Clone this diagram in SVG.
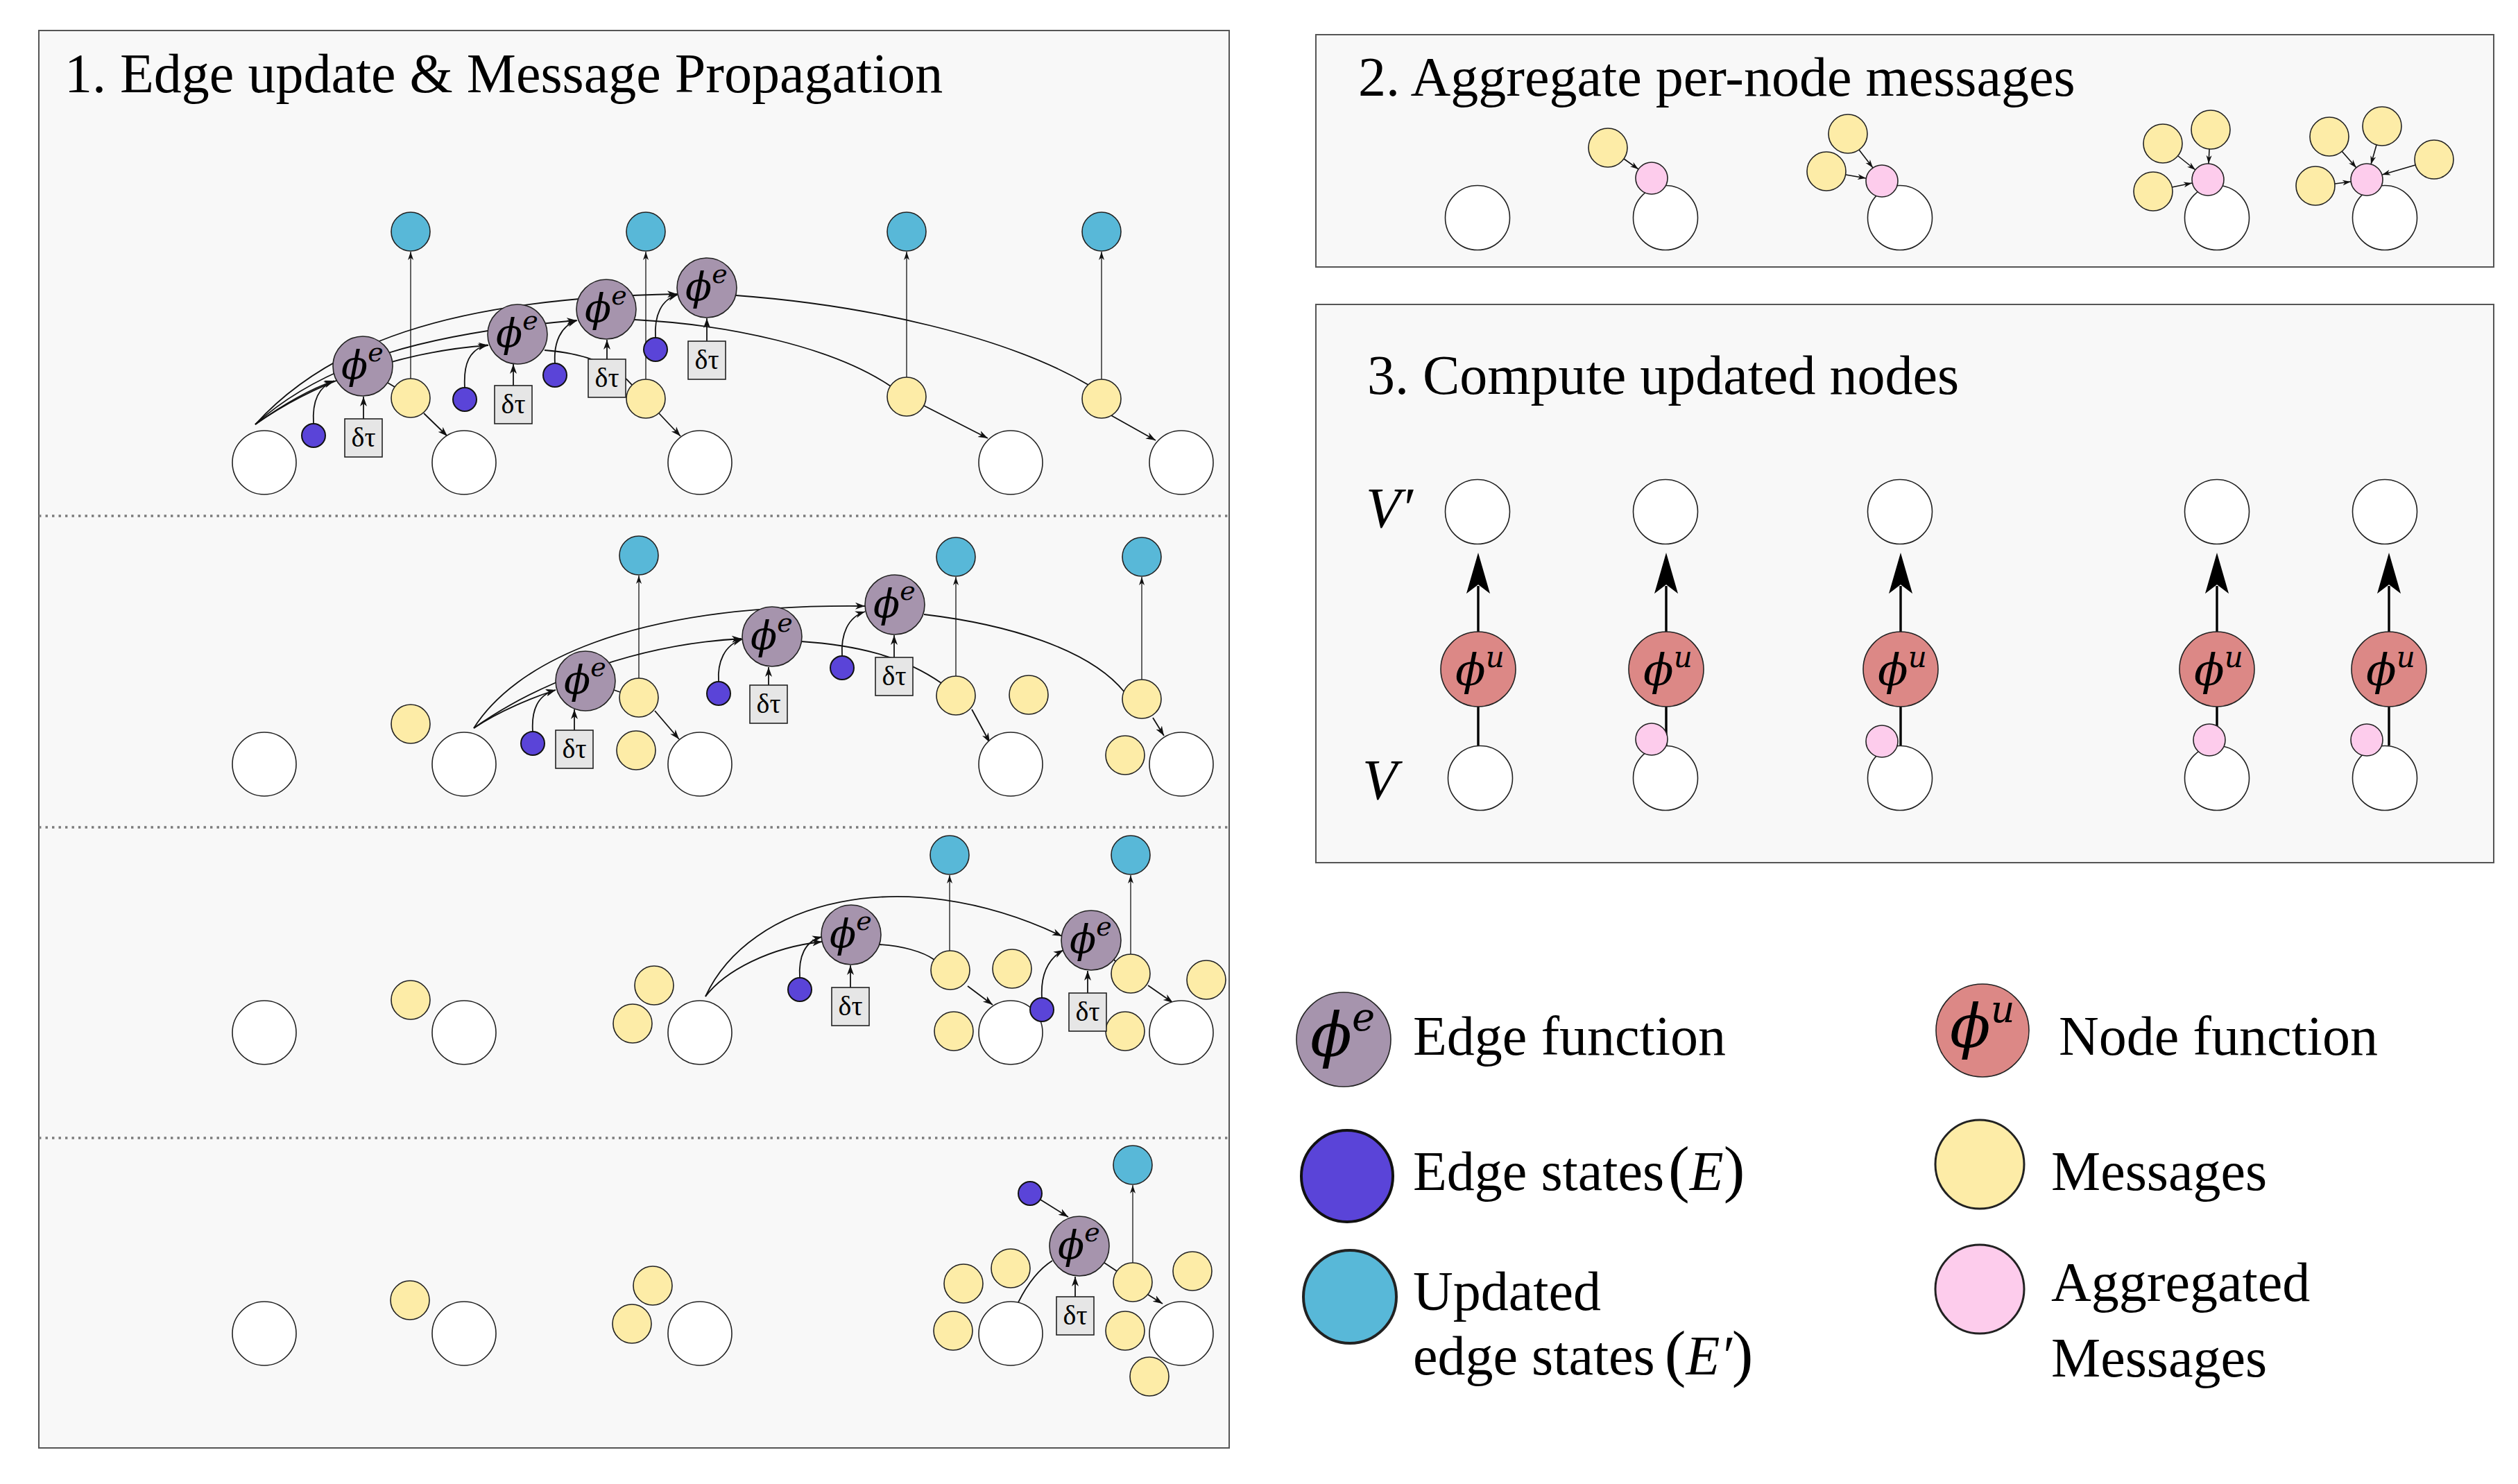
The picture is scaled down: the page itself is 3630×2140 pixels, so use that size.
<svg xmlns="http://www.w3.org/2000/svg" width="3630" height="2140" viewBox="0 0 3630 2140">
<defs>
<style>
.pb{fill:#f8f8f8;stroke:#555;stroke-width:2}
.dv{stroke:#7a7a7a;stroke-width:3.6;stroke-dasharray:3.4 6.1;fill:none}
.w{fill:#fff;stroke:#222;stroke-width:1.6}
.y{fill:#fdeca7;stroke:#222;stroke-width:1.6}
.t{fill:#58b8d8;stroke:#222;stroke-width:1.6}
.b{fill:#5a44d8;stroke:#111;stroke-width:2}
.pe{fill:#a694ad;stroke:#222;stroke-width:1.6}
.pu{fill:#dc8886;stroke:#222;stroke-width:1.6}
.pk{fill:#fdccec;stroke:#222;stroke-width:1.6}
.bx{fill:#e6e6e6;stroke:#222;stroke-width:1.6}
.c{fill:none;stroke:#111;stroke-width:1.8}
.ca{fill:none;stroke:#111;stroke-width:1.8;marker-end:url(#ah)}
.cs{fill:none;stroke:#111;stroke-width:1.6;marker-end:url(#ah2)}
.v{fill:none;stroke:#111;stroke-width:1.3;marker-end:url(#ah2)}
.tk{fill:none;stroke:#000;stroke-width:3.4}
.ttl{font-family:'Liberation Serif','Times New Roman',serif;font-size:80px;fill:#000}
.dt{font-family:'Liberation Serif','Times New Roman',serif;font-size:40px;text-anchor:middle;fill:#000}
.phi{font-family:'DejaVu Serif',serif;font-style:italic;fill:#000}
.mi{font-family:'Liberation Serif','Times New Roman',serif;font-style:italic}
</style>
<marker id="ah" markerUnits="userSpaceOnUse" markerWidth="16" markerHeight="12" refX="14" refY="6" orient="auto"><path d="M0,1 L14,6 L0,11 L4,6 Z" fill="#111"/></marker>
<marker id="ah2" markerUnits="userSpaceOnUse" markerWidth="13" markerHeight="10" refX="12" refY="5" orient="auto"><path d="M0,1 L12,5 L0,9 L3.5,5 Z" fill="#111"/></marker>
</defs>

<g id="panels">
<rect class="pb" x="56" y="44" width="1716" height="2044"/>
<rect class="pb" x="1897" y="50" width="1698" height="335"/>
<rect class="pb" x="1897" y="439" width="1698" height="805"/>
<path class="dv" d="M56,744 H1772 M56,1193 H1772 M56,1641 H1772"/>
<text class="ttl" x="93" y="133">1. Edge update &amp; Message Propagation</text>
<text class="ttl" x="1958" y="138">2. Aggregate per-node messages</text>
<text class="ttl" x="1971" y="568">3. Compute updated nodes</text>
<text class="mi" x="1969" y="760" font-size="82">V′</text>
<text class="mi" x="1964" y="1152" font-size="82">V</text>
</g>

<g id="connectors">
<!-- row 1 -->
<path class="ca" d="M368,612 C410,582 450,560 482,549"/>
<path class="ca" d="M368,612 C470,540 600,505 704,498"/>
<path class="ca" d="M368,612 C470,520 620,480 831,462"/>
<path class="ca" d="M368,612 C470,500 640,430 976,424"/>
<path class="ca" d="M452,611 C450,580 458,558 481,550"/>
<path class="ca" d="M670,559 C668,525 676,504 703,497"/>
<path class="ca" d="M800,524 C798,494 808,470 832,462"/>
<path class="ca" d="M945,487 C943,455 953,432 977,425"/>
<path class="ca" d="M524,604 V572"/>
<path class="ca" d="M740,556 V525"/>
<path class="ca" d="M875,518 V490"/>
<path class="ca" d="M1019,492 V459"/>
<path class="c" d="M559,552 L569,558"/>
<path class="c" d="M785,505 C850,510 890,530 912,556"/>
<path class="c" d="M915,461 C1050,468 1200,500 1284,557"/>
<path class="c" d="M1061,426 C1250,440 1450,485 1569,555"/>
<path class="ca" d="M611,596 L645,629"/>
<path class="ca" d="M950,596 L981,629"/>
<path class="ca" d="M1332,585 L1424,632"/>
<path class="ca" d="M1600,598 L1666,635"/>
<path class="v" d="M592,546 V363"/>
<path class="v" d="M931,547 V363"/>
<path class="v" d="M1307,544 V363"/>
<path class="v" d="M1588,547 V363"/>
<!-- row 2 -->
<path class="ca" d="M683,1050 C720,1025 770,1005 801,995"/>
<path class="ca" d="M683,1050 C760,995 900,930 1069,921"/>
<path class="ca" d="M683,1050 C740,960 900,870 1247,874"/>
<path class="ca" d="M768,1055 C766,1025 775,1002 801,995"/>
<path class="ca" d="M1036,983 C1034,955 1044,930 1070,922"/>
<path class="ca" d="M1214,946 C1212,915 1222,890 1247,882"/>
<path class="ca" d="M828,1053 V1023"/>
<path class="ca" d="M1108,988 V962"/>
<path class="ca" d="M1289,948 V916"/>
<path class="c" d="M885,995 L894,998"/>
<path class="c" d="M1155,925 C1230,930 1300,945 1357,985"/>
<path class="c" d="M1332,886 C1450,900 1570,935 1621,998"/>
<path class="ca" d="M944,1025 L979,1066"/>
<path class="ca" d="M1401,1023 L1427,1071"/>
<path class="ca" d="M1662,1035 L1678,1061"/>
<path class="v" d="M921,978 V830"/>
<path class="v" d="M1378,975 V832"/>
<path class="v" d="M1646,980 V832"/>
<!-- row 3 -->
<path class="ca" d="M1017,1437 C1045,1400 1110,1366 1185,1358"/>
<path class="ca" d="M1017,1437 C1080,1300 1300,1240 1531,1350"/>
<path class="ca" d="M1153,1410 C1151,1380 1160,1357 1185,1351"/>
<path class="ca" d="M1502,1439 C1500,1405 1510,1383 1533,1370"/>
<path class="ca" d="M1226,1424 V1392"/>
<path class="ca" d="M1568,1432 V1400"/>
<path class="c" d="M1268,1362 C1300,1364 1330,1372 1347,1384"/>
<path class="c" d="M1605,1383 L1611,1389"/>
<path class="ca" d="M1395,1422 L1431,1449"/>
<path class="ca" d="M1655,1421 L1691,1446"/>
<path class="v" d="M1369,1371 V1262"/>
<path class="v" d="M1630,1376 V1262"/>
<!-- row 4 -->
<path class="ca" d="M1500,1730 L1540,1755"/>
<path class="c" d="M1468,1878 C1482,1850 1498,1830 1517,1818"/>
<path class="ca" d="M1550,1870 V1841"/>
<path class="c" d="M1592,1821 L1610,1833"/>
<path class="ca" d="M1647,1862 L1676,1880"/>
<path class="v" d="M1633,1821 V1709"/>
<!-- panel 2 -->
<path class="cs" d="M2341,229 L2362,244"/>
<path class="cs" d="M2680,216 L2700,242"/>
<path class="cs" d="M2661,252 L2690,257"/>
<path class="cs" d="M3140,225 L3165,245"/>
<path class="cs" d="M3185,215 L3184,236"/>
<path class="cs" d="M3131,270 L3160,264"/>
<path class="cs" d="M3376,218 L3397,242"/>
<path class="cs" d="M3426,209 L3418,237"/>
<path class="cs" d="M3482,238 L3434,252"/>
<path class="cs" d="M3366,265 L3389,262"/>
<!-- panel 3 -->
<path class="tk" d="M2131,1075 V1019 M2131,911 V845"/>
<path class="tk" d="M2402,1075 V1019 M2402,911 V845"/>
<path class="tk" d="M2740,1075 V1019 M2740,911 V845"/>
<path class="tk" d="M3196,1075 V1019 M3196,911 V845"/>
<path class="tk" d="M3444,1075 V1019 M3444,911 V845"/>
<path d="M2131,797 L2148,856 L2131,843 L2114,856 Z M2402,797 L2419,856 L2402,843 L2385,856 Z M2740,797 L2757,856 L2740,843 L2723,856 Z M3196,797 L3213,856 L3196,843 L3179,856 Z M3444,797 L3461,856 L3444,843 L3427,856 Z" fill="#000"/>
</g>

<!-- ROW 1 -->
<g id="r1-n1"><circle class="w" cx="381" cy="667" r="46"/></g>
<g id="r1-n2"><circle class="w" cx="669" cy="667" r="46"/></g>
<g id="r1-n3"><circle class="w" cx="1009" cy="667" r="46"/></g>
<g id="r1-n4"><circle class="w" cx="1457" cy="667" r="46"/></g>
<g id="r1-n5"><circle class="w" cx="1703" cy="667" r="46"/></g>
<g id="r1-t1"><circle class="t" cx="592" cy="334" r="28"/></g>
<g id="r1-t2"><circle class="t" cx="931" cy="334" r="28"/></g>
<g id="r1-t3"><circle class="t" cx="1307" cy="334" r="28"/></g>
<g id="r1-t4"><circle class="t" cx="1588" cy="334" r="28"/></g>
<g id="r1-m1"><circle class="y" cx="592" cy="574" r="28"/></g>
<g id="r1-m2"><circle class="y" cx="931" cy="575" r="28"/></g>
<g id="r1-m3"><circle class="y" cx="1307" cy="572" r="28"/></g>
<g id="r1-m4"><circle class="y" cx="1588" cy="575" r="28"/></g>
<g id="r1-e1"><circle class="b" cx="452" cy="628" r="17"/></g>
<g id="r1-e2"><circle class="b" cx="670" cy="576" r="17"/></g>
<g id="r1-e3"><circle class="b" cx="800" cy="541" r="17"/></g>
<g id="r1-e4"><circle class="b" cx="945" cy="504" r="17"/></g>
<g id="r1-d1"><rect class="bx" x="497" y="604" width="54" height="55"/><text class="dt" x="524" y="644">δτ</text></g>
<g id="r1-d2"><rect class="bx" x="713" y="556" width="54" height="55"/><text class="dt" x="740" y="596">δτ</text></g>
<g id="r1-d3"><rect class="bx" x="848" y="518" width="54" height="55"/><text class="dt" x="875" y="558">δτ</text></g>
<g id="r1-d4"><rect class="bx" x="992" y="492" width="54" height="55"/><text class="dt" x="1019" y="532">δτ</text></g>
<g id="r1-f1"><circle class="pe" cx="523" cy="528" r="43"/><text class="phi" x="492" y="546" font-size="56">ϕ<tspan font-size="38" dy="-25">e</tspan></text></g>
<g id="r1-f2"><circle class="pe" cx="746" cy="482" r="43"/><text class="phi" x="715" y="500" font-size="56">ϕ<tspan font-size="38" dy="-25">e</tspan></text></g>
<g id="r1-f3"><circle class="pe" cx="874" cy="446" r="43"/><text class="phi" x="843" y="464" font-size="56">ϕ<tspan font-size="38" dy="-25">e</tspan></text></g>
<g id="r1-f4"><circle class="pe" cx="1019" cy="415" r="43"/><text class="phi" x="988" y="433" font-size="56">ϕ<tspan font-size="38" dy="-25">e</tspan></text></g>

<!-- ROW 2 -->
<g id="r2-n1"><circle class="w" cx="381" cy="1102" r="46"/></g>
<g id="r2-n2"><circle class="w" cx="669" cy="1102" r="46"/></g>
<g id="r2-n3"><circle class="w" cx="1009" cy="1102" r="46"/></g>
<g id="r2-n4"><circle class="w" cx="1457" cy="1102" r="46"/></g>
<g id="r2-n5"><circle class="w" cx="1703" cy="1102" r="46"/></g>
<g id="r2-t1"><circle class="t" cx="921" cy="801" r="28"/></g>
<g id="r2-t2"><circle class="t" cx="1378" cy="803" r="28"/></g>
<g id="r2-t3"><circle class="t" cx="1646" cy="803" r="28"/></g>
<g id="r2-m1"><circle class="y" cx="592" cy="1044" r="28"/></g>
<g id="r2-m2"><circle class="y" cx="921" cy="1006" r="28"/></g>
<g id="r2-m3"><circle class="y" cx="917" cy="1082" r="28"/></g>
<g id="r2-m4"><circle class="y" cx="1378" cy="1003" r="28"/></g>
<g id="r2-m5"><circle class="y" cx="1483" cy="1002" r="28"/></g>
<g id="r2-m6"><circle class="y" cx="1646" cy="1008" r="28"/></g>
<g id="r2-m7"><circle class="y" cx="1622" cy="1089" r="28"/></g>
<g id="r2-e1"><circle class="b" cx="768" cy="1072" r="17"/></g>
<g id="r2-e2"><circle class="b" cx="1036" cy="1000" r="17"/></g>
<g id="r2-e3"><circle class="b" cx="1214" cy="963" r="17"/></g>
<g id="r2-d1"><rect class="bx" x="801" y="1053" width="54" height="55"/><text class="dt" x="828" y="1093">δτ</text></g>
<g id="r2-d2"><rect class="bx" x="1081" y="988" width="54" height="55"/><text class="dt" x="1108" y="1028">δτ</text></g>
<g id="r2-d3"><rect class="bx" x="1262" y="948" width="54" height="55"/><text class="dt" x="1289" y="988">δτ</text></g>
<g id="r2-f1"><circle class="pe" cx="844" cy="982" r="43"/><text class="phi" x="813" y="1000" font-size="56">ϕ<tspan font-size="38" dy="-25">e</tspan></text></g>
<g id="r2-f2"><circle class="pe" cx="1113" cy="918" r="43"/><text class="phi" x="1082" y="936" font-size="56">ϕ<tspan font-size="38" dy="-25">e</tspan></text></g>
<g id="r2-f3"><circle class="pe" cx="1290" cy="872" r="43"/><text class="phi" x="1259" y="890" font-size="56">ϕ<tspan font-size="38" dy="-25">e</tspan></text></g>

<!-- ROW 3 -->
<g id="r3-n1"><circle class="w" cx="381" cy="1489" r="46"/></g>
<g id="r3-n2"><circle class="w" cx="669" cy="1489" r="46"/></g>
<g id="r3-n3"><circle class="w" cx="1009" cy="1489" r="46"/></g>
<g id="r3-n4"><circle class="w" cx="1457" cy="1489" r="46"/></g>
<g id="r3-n5"><circle class="w" cx="1703" cy="1489" r="46"/></g>
<g id="r3-t1"><circle class="t" cx="1369" cy="1233" r="28"/></g>
<g id="r3-t2"><circle class="t" cx="1630" cy="1233" r="28"/></g>
<g id="r3-m1"><circle class="y" cx="592" cy="1442" r="28"/></g>
<g id="r3-m2"><circle class="y" cx="943" cy="1421" r="28"/></g>
<g id="r3-m3"><circle class="y" cx="912" cy="1476" r="28"/></g>
<g id="r3-m4"><circle class="y" cx="1370" cy="1399" r="28"/></g>
<g id="r3-m5"><circle class="y" cx="1459" cy="1397" r="28"/></g>
<g id="r3-m6"><circle class="y" cx="1375" cy="1487" r="28"/></g>
<g id="r3-m7"><circle class="y" cx="1630" cy="1404" r="28"/></g>
<g id="r3-m8"><circle class="y" cx="1739" cy="1413" r="28"/></g>
<g id="r3-m9"><circle class="y" cx="1622" cy="1487" r="28"/></g>
<g id="r3-e1"><circle class="b" cx="1153" cy="1427" r="17"/></g>
<g id="r3-e2"><circle class="b" cx="1502" cy="1456" r="17"/></g>
<g id="r3-d1"><rect class="bx" x="1199" y="1424" width="54" height="55"/><text class="dt" x="1226" y="1464">δτ</text></g>
<g id="r3-d2"><rect class="bx" x="1541" y="1432" width="54" height="55"/><text class="dt" x="1568" y="1472">δτ</text></g>
<g id="r3-f1"><circle class="pe" cx="1227" cy="1348" r="43"/><text class="phi" x="1196" y="1366" font-size="56">ϕ<tspan font-size="38" dy="-25">e</tspan></text></g>
<g id="r3-f2"><circle class="pe" cx="1573" cy="1356" r="43"/><text class="phi" x="1542" y="1374" font-size="56">ϕ<tspan font-size="38" dy="-25">e</tspan></text></g>

<!-- ROW 4 -->
<g id="r4-n1"><circle class="w" cx="381" cy="1923" r="46"/></g>
<g id="r4-n2"><circle class="w" cx="669" cy="1923" r="46"/></g>
<g id="r4-n3"><circle class="w" cx="1009" cy="1923" r="46"/></g>
<g id="r4-n4"><circle class="w" cx="1457" cy="1923" r="46"/></g>
<g id="r4-n5"><circle class="w" cx="1703" cy="1923" r="46"/></g>
<g id="r4-t1"><circle class="t" cx="1633" cy="1680" r="28"/></g>
<g id="r4-m1"><circle class="y" cx="591" cy="1875" r="28"/></g>
<g id="r4-m2"><circle class="y" cx="941" cy="1854" r="28"/></g>
<g id="r4-m3"><circle class="y" cx="911" cy="1909" r="28"/></g>
<g id="r4-m4"><circle class="y" cx="1389" cy="1851" r="28"/></g>
<g id="r4-m5"><circle class="y" cx="1457" cy="1829" r="28"/></g>
<g id="r4-m6"><circle class="y" cx="1374" cy="1919" r="28"/></g>
<g id="r4-m7"><circle class="y" cx="1633" cy="1849" r="28"/></g>
<g id="r4-m8"><circle class="y" cx="1719" cy="1833" r="28"/></g>
<g id="r4-m9"><circle class="y" cx="1622" cy="1919" r="28"/></g>
<g id="r4-m10"><circle class="y" cx="1657" cy="1985" r="28"/></g>
<g id="r4-e1"><circle class="b" cx="1485" cy="1721" r="17"/></g>
<g id="r4-d1"><rect class="bx" x="1523" y="1870" width="54" height="55"/><text class="dt" x="1550" y="1910">δτ</text></g>
<g id="r4-f1"><circle class="pe" cx="1556" cy="1797" r="43"/><text class="phi" x="1525" y="1815" font-size="56">ϕ<tspan font-size="38" dy="-25">e</tspan></text></g>

<!-- PANEL 2 -->
<g id="p2-n1"><circle class="w" cx="2130" cy="314" r="46.5"/></g>
<g id="p2-n2"><circle class="w" cx="2401" cy="314" r="46.5"/></g>
<g id="p2-n3"><circle class="w" cx="2739" cy="314" r="46.5"/></g>
<g id="p2-n4"><circle class="w" cx="3196" cy="314" r="46.5"/></g>
<g id="p2-n5"><circle class="w" cx="3438" cy="314" r="46.5"/></g>
<g id="p2-a2"><circle class="pk" cx="2381" cy="257" r="23"/></g>
<g id="p2-a3"><circle class="pk" cx="2713" cy="261" r="23"/></g>
<g id="p2-a4"><circle class="pk" cx="3183" cy="259" r="23"/></g>
<g id="p2-a5"><circle class="pk" cx="3412" cy="259" r="23"/></g>
<g id="p2-m1"><circle class="y" cx="2318" cy="213" r="28"/></g>
<g id="p2-m2"><circle class="y" cx="2664" cy="193" r="28"/></g>
<g id="p2-m3"><circle class="y" cx="2633" cy="247" r="28"/></g>
<g id="p2-m4"><circle class="y" cx="3118" cy="207" r="28"/></g>
<g id="p2-m5"><circle class="y" cx="3187" cy="187" r="28"/></g>
<g id="p2-m6"><circle class="y" cx="3104" cy="276" r="28"/></g>
<g id="p2-m7"><circle class="y" cx="3358" cy="197" r="28"/></g>
<g id="p2-m8"><circle class="y" cx="3434" cy="182" r="28"/></g>
<g id="p2-m9"><circle class="y" cx="3509" cy="230" r="28"/></g>
<g id="p2-m10"><circle class="y" cx="3338" cy="268" r="28"/></g>

<!-- PANEL 3 -->
<g id="p3-vp1"><circle class="w" cx="2130" cy="738" r="46.5"/></g>
<g id="p3-vp2"><circle class="w" cx="2401" cy="738" r="46.5"/></g>
<g id="p3-vp3"><circle class="w" cx="2739" cy="738" r="46.5"/></g>
<g id="p3-vp4"><circle class="w" cx="3196" cy="738" r="46.5"/></g>
<g id="p3-vp5"><circle class="w" cx="3438" cy="738" r="46.5"/></g>
<g id="p3-v1"><circle class="w" cx="2134" cy="1122" r="46.5"/></g>
<g id="p3-v2"><circle class="w" cx="2401" cy="1122" r="46.5"/></g>
<g id="p3-v3"><circle class="w" cx="2739" cy="1122" r="46.5"/></g>
<g id="p3-v4"><circle class="w" cx="3196" cy="1122" r="46.5"/></g>
<g id="p3-v5"><circle class="w" cx="3438" cy="1122" r="46.5"/></g>
<g id="p3-a2"><circle class="pk" cx="2381" cy="1066" r="23"/></g>
<g id="p3-a3"><circle class="pk" cx="2713" cy="1069" r="23"/></g>
<g id="p3-a4"><circle class="pk" cx="3185" cy="1067" r="23"/></g>
<g id="p3-a5"><circle class="pk" cx="3412" cy="1067" r="23"/></g>
<g id="p3-u1"><circle class="pu" cx="2131" cy="965" r="54"/><text class="phi" x="2098" y="988" font-size="64">ϕ<tspan font-size="42" dy="-26">u</tspan></text></g>
<g id="p3-u2"><circle class="pu" cx="2402" cy="965" r="54"/><text class="phi" x="2369" y="988" font-size="64">ϕ<tspan font-size="42" dy="-26">u</tspan></text></g>
<g id="p3-u3"><circle class="pu" cx="2740" cy="965" r="54"/><text class="phi" x="2707" y="988" font-size="64">ϕ<tspan font-size="42" dy="-26">u</tspan></text></g>
<g id="p3-u4"><circle class="pu" cx="3196" cy="965" r="54"/><text class="phi" x="3163" y="988" font-size="64">ϕ<tspan font-size="42" dy="-26">u</tspan></text></g>
<g id="p3-u5"><circle class="pu" cx="3444" cy="965" r="54"/><text class="phi" x="3411" y="988" font-size="64">ϕ<tspan font-size="42" dy="-26">u</tspan></text></g>

<!-- LEGEND -->
<g id="lg-edgefn"><circle class="pe" cx="1937" cy="1499" r="68"/><text class="phi" x="1889" y="1523" font-size="88">ϕ<tspan font-size="56" dy="-37">e</tspan></text><text class="ttl" x="2037" y="1521">Edge function</text></g>
<g id="lg-nodefn"><circle class="pu" cx="2858" cy="1486" r="67"/><text class="phi" x="2811" y="1510" font-size="86">ϕ<tspan font-size="54" dy="-36">u</tspan></text><text class="ttl" x="2968" y="1521">Node function</text></g>
<g id="lg-edgest"><circle class="b" cx="1942" cy="1696" r="66" style="stroke-width:4"/><text class="ttl" x="2037" y="1716">Edge states<tspan font-size="92" dx="6">(</tspan><tspan class="mi">E</tspan><tspan font-size="92">)</tspan></text></g>
<g id="lg-msg"><circle class="y" cx="2854" cy="1679" r="64" style="stroke-width:3"/><text class="ttl" x="2957" y="1716">Messages</text></g>
<g id="lg-upd"><circle class="t" cx="1946" cy="1870" r="67" style="stroke-width:4"/><text class="ttl" x="2037" y="1889">Updated</text><text class="ttl" x="2037" y="1982">edge states<tspan font-size="92" dx="14">(</tspan><tspan class="mi">E′</tspan><tspan font-size="92">)</tspan></text></g>
<g id="lg-agg"><circle class="pk" cx="2854" cy="1859" r="64" style="stroke-width:3"/><text class="ttl" x="2957" y="1876">Aggregated</text><text class="ttl" x="2957" y="1985">Messages</text></g>
</svg>
